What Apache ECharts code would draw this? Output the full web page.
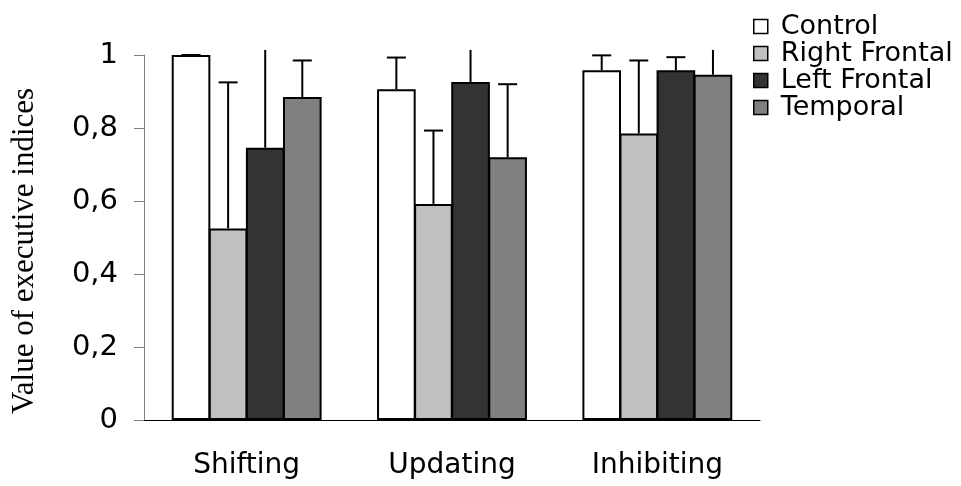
<!DOCTYPE html>
<html>
<head>
<meta charset="utf-8">
<script src="https://cdn.jsdelivr.net/npm/echarts@6/dist/echarts.min.js"></script>
<style>
  html, body { margin: 0; padding: 0; background: #fff; }
  #chart-container { width: 961px; height: 486px; }
</style>
</head>
<body>
<div id="chart-container"></div>
<script>
var categories = ['Shifting', 'Updating', 'Inhibiting'];
var groups = ['Control', 'Right Frontal', 'Left Frontal', 'Temporal'];
var yTicks = ['0', '0,2', '0,4', '0,6', '0,8', '1'];

// mean values per group
var control = [1.0, 0.906, 0.958];
var rightFrontal = [0.525, 0.592, 0.785];
var leftFrontal = [0.746, 0.926, 0.958];
var temporal = [0.885, 0.720, 0.946];

// upper error (SD) per group
var controlErr = [0, 0.087, 0.041];
var rightFrontalErr = [0.400, 0.201, 0.200];
var leftFrontalErr = [0.350, 0.150, 0.036];
var temporalErr = [0.100, 0.200, 0.120];

var colors = ['#ffffff', '#c0c0c0', '#333333', '#808080'];

var means = [control, rightFrontal, leftFrontal, temporal];
var errs = [controlErr, rightFrontalErr, leftFrontalErr, temporalErr];

var clipTop = 1.014; // plot area ends a bit above 1
var catGap = 0.27;

var dom = document.getElementById('chart-container');
var myChart = echarts.init(dom, null, { renderer: 'canvas' });

var series = [];
groups.forEach(function (name, g) {
  series.push({
    name: name,
    type: 'bar',
    data: means[g],
    barGap: '-4%',
    barCategoryGap: catGap * 100 + '%',
    itemStyle: { color: colors[g], borderColor: '#000', borderWidth: 2 },
    silent: true
  });
});
groups.forEach(function (name, g) {
  series.push({
    name: name + ' error',
    type: 'custom',
    clip: false,
    silent: true,
    z: 5,
    encode: { x: 0, y: 1 },
    data: means[g].map(function (m, i) { return [i, m, errs[g][i]]; }),
    renderItem: function (params, api) {
      var ci = api.value(0);
      var mean = api.value(1);
      var err = api.value(2);
      var catW = api.size([1, 0])[0];
      var barW = catW * (1 - catGap) / (4 - 3 * 0.04);
      var base = api.coord([ci, mean]);
      var x = base[0] + (g - 1.5) * barW * 0.96;
      var clipped = mean + err > clipTop;
      var top = api.coord([ci, Math.min(mean + err, clipTop)]);
      var style = { stroke: '#000', lineWidth: 2 };
      var children = [{
        type: 'line',
        shape: { x1: x, y1: base[1], x2: x, y2: top[1] },
        style: style
      }];
      if (!clipped) {
        children.push({
          type: 'line',
          shape: { x1: x - 9.5, y1: top[1], x2: x + 9.5, y2: top[1] },
          style: style
        });
      }
      return { type: 'group', children: children };
    }
  });
});

var option = {
  animation: false,
  backgroundColor: '#fff',
  grid: { left: 144, right: 201, top: 55, bottom: 66, outerBoundsMode: 'none' },
  legend: {
    data: groups,
    orient: 'vertical',
    left: 748,
    top: 8,
    icon: 'rect',
    itemWidth: 14,
    itemHeight: 14,
    itemGap: 0,
    itemStyle: { borderColor: '#000', borderWidth: 1.5 },
    textStyle: {
      fontFamily: 'DejaVu Sans',
      fontSize: 27,
      color: '#000',
      lineHeight: 27,
      padding: [0, 0, 0, 8]
    }
  },
  xAxis: {
    type: 'category',
    data: categories,
    axisLine: { lineStyle: { color: '#000', width: 1 } },
    axisTick: { length: 10, lineStyle: { color: '#555' } },
    axisLabel: {
      fontFamily: 'DejaVu Sans',
      fontSize: 28,
      color: '#000',
      margin: 32
    }
  },
  yAxis: {
    type: 'value',
    min: 0,
    max: 1,
    interval: 0.2,
    name: 'Value of executive indices',
    nameLocation: 'middle',
    nameGap: 104,
    nameTextStyle: {
      fontFamily: 'Liberation Serif',
      fontSize: 31,
      color: '#000',
      padding: [0, 27, 0, 0]
    },
    splitLine: { show: false },
    axisLine: { show: true, lineStyle: { color: '#808080', width: 1 } },
    axisTick: { show: true, length: 10, lineStyle: { color: '#808080' } },
    axisLabel: {
      fontFamily: 'DejaVu Sans',
      fontSize: 29,
      color: '#000',
      margin: 26,
      formatter: function (v) { return yTicks[Math.round(v / 0.2)]; }
    }
  },
  series: series
};

myChart.setOption(option);
window.addEventListener('resize', myChart.resize);
</script>
</body>
</html>
